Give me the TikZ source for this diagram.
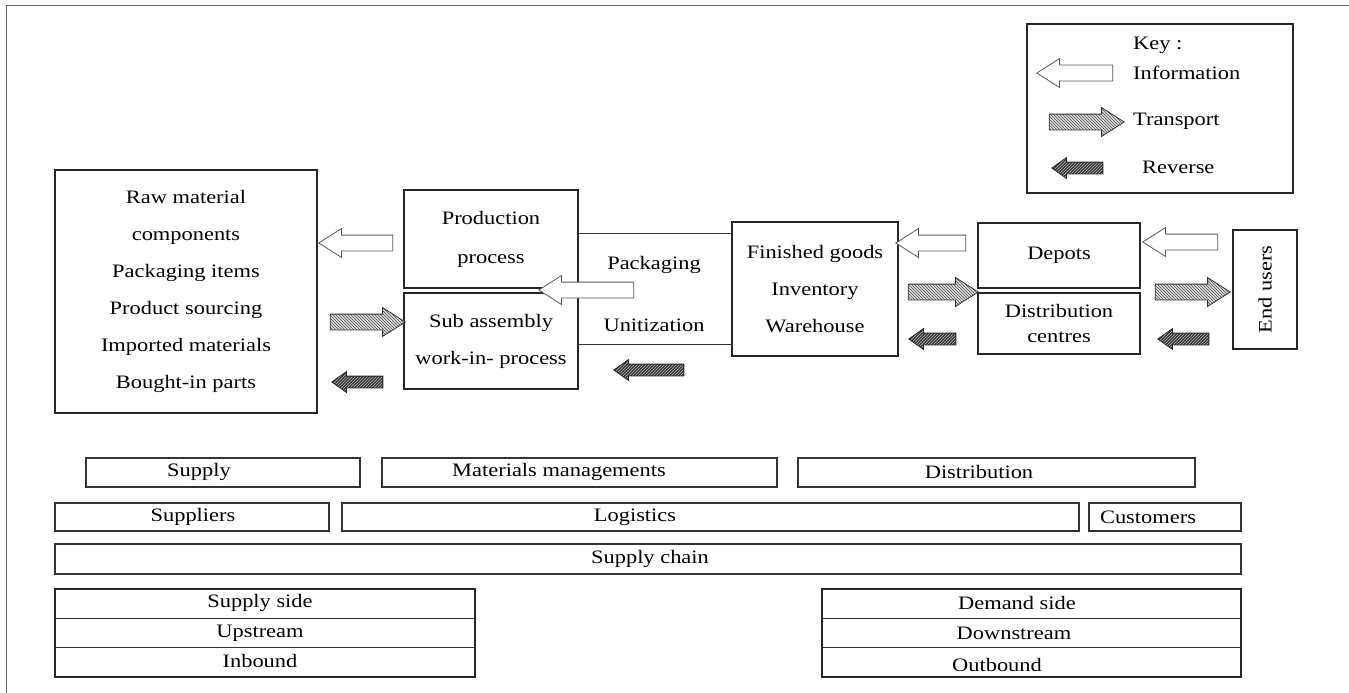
\documentclass[tikz,border=0pt]{standalone}
\usepackage{fontspec}
\setmainfont[FakeStretch=1.18]{Liberation Serif}
\usetikzlibrary{shapes.arrows,patterns,positioning}

\begin{document}
\begin{tikzpicture}[x=1pt,y=-1pt,font=\fontsize{19pt}{37pt}\selectfont,
	box/.style={draw=black!85,line width=1.5pt,inner sep=0pt,outer sep=0pt,align=center,anchor=north west},
	bar/.style={draw=black!80,line width=1.4pt,inner sep=0pt,outer sep=0pt,anchor=north west,minimum height=29pt},
	row/.style={draw=black!80,line width=0.9pt,inner sep=0pt,outer sep=0pt,minimum width=420pt,minimum height=29.3pt},
	txt/.style={inner sep=0pt},
	fat/.style={single arrow,line width=0.8pt,inner xsep=0pt,inner ysep=7.5pt,single arrow head extend=6.5pt,single arrow tip angle=65},
	info/.style={fat,draw=black!65,fill=white},
	transport/.style={fat,draw=black!80,preaction={fill=black!12},pattern=north west lines,pattern color=black!70},
	reverse/.style={single arrow,line width=0.8pt,draw=black!85,preaction={fill=black!80},pattern=north east lines,pattern color=black!25,inner xsep=0pt,inner ysep=5.5pt,single arrow head extend=4.5pt,single arrow tip angle=71},
	toleft/.style={shape border rotate=180}]
	\useasboundingbox (0,0) rectangle (1349,693);
	\draw[black!60,line width=1pt] (6,693) -- (6,6) -- (1349,6);

	\node[box,minimum width=266pt,minimum height=169pt] (key) at (1027,24) {};
	\node[txt,anchor=west] (keyhd) at (1133,45) {Key :};
	\node[txt,anchor=west] (keyinfo) at (1133,73) {Information};
	\node[txt,anchor=west] (keytrans) at (1133,121) {Transport};
	\node[txt,anchor=west] (keyrev) at (1142,167) {Reverse};
	\node[info,toleft,minimum height=76pt] (ikey) at (1081,73) {};
	\node[transport,minimum height=75pt] (tkey) at (1080.5,122) {};
	\node[reverse,toleft,minimum height=51pt] (rkey) at (1081.5,168) {};

	\node[box,minimum width=262pt,minimum height=243pt] (raw) at (55,170) {Raw material\\components\\Packaging items\\Product sourcing\\Imported materials\\Bought-in parts};
	\node[box,minimum width=174pt,minimum height=98pt,font=\fontsize{19pt}{39pt}\selectfont] (prod) at (404,190) {Production\\process};
	\node[box,minimum width=174pt,minimum height=96pt,below=5pt of prod] (sub) {Sub assembly\\work-in-\ process};
	\node[box,minimum width=166pt,minimum height=134pt] (fin) at (732,222) {Finished goods\\Inventory\\Warehouse};
	\node[box,minimum width=162pt,minimum height=65pt] (dep) at (978,223) {Depots};
	\node[box,minimum width=162pt,minimum height=61pt,below=5pt of dep,font=\fontsize{19pt}{25pt}\selectfont] (dc) {Distribution\\centres};
	\node[box,anchor=center,rotate=90,minimum width=119pt,minimum height=64pt] (end) at (1265,289.5) {End users};

	\node[txt] (pack) at (654,265) {Packaging};
	\node[txt] (unit) at (654,325) {Unitization};
	\draw[black!80,line width=0.9pt] (prod.east |- 0,233) -- (fin.west |- 0,233);
	\draw[black!80,line width=0.9pt] (prod.east |- 0,344) -- (fin.west |- 0,344);

	\node[info,toleft,minimum height=74pt] (i1) at (362,243) {};
	\node[info,toleft,minimum height=95pt] (i2) at (592.5,290) {};
	\node[info,toleft,minimum height=70pt] (i3) at (937,243) {};
	\node[info,toleft,minimum height=75pt] (i4) at (1186.5,242) {};
	\node[transport,minimum height=75pt] (t1) at (361.5,322) {};
	\node[transport,minimum height=70pt] (t2) at (937,292) {};
	\node[transport,minimum height=75pt] (t3) at (1186.5,292) {};
	\node[reverse,toleft,minimum height=51pt] (r1) at (361.5,382) {};
	\node[reverse,toleft,minimum height=70pt] (r2) at (653,370) {};
	\node[reverse,toleft,minimum height=47pt] (r3) at (936.5,339) {};
	\node[reverse,toleft,minimum height=51pt] (r4) at (1187.5,339) {};

	\node[bar,minimum width=274pt] (supply) at (86,458) {};
	\node[bar,minimum width=395pt] (matman) at (382,458) {};
	\node[bar,minimum width=397pt] (distr) at (798,458) {};
	\node[bar,minimum width=274pt,minimum height=28pt] (suppl) at (55,503) {};
	\node[bar,minimum width=737pt,minimum height=28pt] (logis) at (342,503) {};
	\node[bar,minimum width=152pt,minimum height=28pt] (cust) at (1089,503) {};
	\node[bar,minimum width=1186pt,minimum height=30pt,line width=2.2pt] (chain) at (55,544) {};
	\node[txt] (supplytxt) at (199,472) {Supply};
	\node[txt] (matmantxt) at (559,472) {Materials managements};
	\node[txt] (distrtxt) at (979,472) {Distribution};
	\node[txt] (suppltxt) at (193,517) {Suppliers};
	\node[txt] (logistxt) at (635,517) {Logistics};
	\node[txt] (custtxt) at (1148,517) {Customers};
	\node[txt] (chaintxt) at (650,559) {Supply chain};

	\node[row,anchor=north west] (sside) at (55,589) {};
	\node[row,below=0pt of sside] (upstr) {};
	\node[row,below=0pt of upstr] (inb) {};
	\draw[black!85,line width=2pt] (sside.north west) rectangle (inb.south east);
	\node[txt] (ssidetxt) at (260,603) {Supply side};
	\node[txt] (upstrtxt) at (260,633) {Upstream};
	\node[txt] (inbtxt) at (260,661) {Inbound};

	\node[row,anchor=north west,minimum width=419pt] (dside) at (822,589) {};
	\node[row,minimum width=419pt,below=0pt of dside] (downstr) {};
	\node[row,minimum width=419pt,below=0pt of downstr] (outb) {};
	\draw[black!85,line width=2pt] (dside.north west) rectangle (outb.south east);
	\node[txt] (dsidetxt) at (1017,603) {Demand side};
	\node[txt] (downstrtxt) at (1014,633) {Downstream};
	\node[txt] (outbtxt) at (997,665) {Outbound};
\end{tikzpicture}
\end{document}
